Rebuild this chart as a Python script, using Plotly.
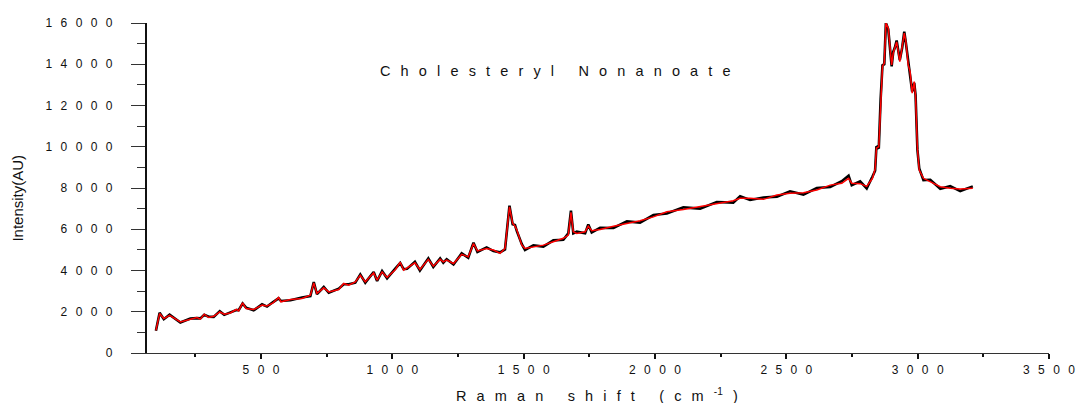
import plotly.graph_objects as go

# Raman shift (cm-1) sample positions
shift = [100, 114, 130, 152, 193, 231, 256, 269, 284, 301, 320, 343, 360, 383, 406, 415, 430, 443,
         472, 504, 523, 546, 567, 576, 612, 656, 688, 701, 713, 739, 758, 796, 815, 834, 859, 878,
         897, 929, 942, 961, 980, 1012, 1030, 1043, 1056, 1086, 1105, 1137, 1156, 1182, 1194, 1207,
         1233, 1264, 1289, 1309, 1324, 1359, 1385, 1410, 1429, 1446, 1458, 1467, 1474, 1493, 1505,
         1537, 1575, 1613, 1651, 1670, 1680, 1689, 1702, 1734, 1746, 1759, 1791, 1842, 1893, 1943,
         1994, 2045, 2108, 2172, 2235, 2298, 2324, 2362, 2413, 2464, 2514, 2565, 2616, 2667, 2711,
         2737, 2749, 2781, 2806, 2828, 2838, 2843, 2852, 2859, 2866, 2873, 2879, 2888, 2894, 2901,
         2907, 2913, 2920, 2926, 2932, 2941, 2949, 2955, 2964, 2971, 2979, 2987, 2992, 2999, 3006,
         3022, 3048, 3086, 3124, 3162, 3210]

# smoothed spectrum (red)
smoothed = [1100, 1910, 1670, 1830, 1510, 1640, 1720, 1640, 1880, 1720, 1780, 1990, 1880, 1940, 2110,
            2040, 2430, 2160, 2110, 2320, 2280, 2430, 2690, 2480, 2590, 2640, 2800, 3400, 2890, 3160,
            2960, 3080, 3370, 3290, 3450, 3770, 3450, 3890, 3530, 3930, 3660, 4050, 4400, 4020, 4120,
            4370, 4050, 4540, 4210, 4540, 4420, 4500, 4340, 4780, 4660, 5310, 4950, 5070, 4990, 4830,
            5070, 7090, 6290, 6150, 5960, 5230, 5070, 5150, 5230, 5390, 5560, 5720, 6820, 5880, 5800,
            5880, 6150, 5930, 5990, 6150, 6290, 6410, 6600, 6850, 6960, 7090, 7220, 7380, 7500, 7500,
            7450, 7660, 7740, 7770, 7900, 8140, 8230, 8470, 8230, 8210, 8080, 8470, 8920, 9930, 10000,
            12360, 13890, 14060, 15990, 15760, 14790, 13970, 14540, 14860, 15080, 14620, 14130, 14860,
            15510, 15110, 13970, 13650, 12600, 13160, 12430, 9930, 8870, 8470, 8310, 8060, 7990, 7950,
            7990]

# raw spectrum (black)
raw = [1080, 1950, 1640, 1860, 1480, 1670, 1690, 1680, 1850, 1760, 1750, 2030, 1850, 1980, 2080,
       2080, 2400, 2200, 2070, 2360, 2250, 2470, 2650, 2520, 2560, 2690, 2760, 3440, 2850, 3200,
       2920, 3120, 3330, 3330, 3410, 3810, 3410, 3930, 3490, 3970, 3620, 4100, 4360, 4070, 4080,
       4420, 4000, 4590, 4170, 4590, 4380, 4550, 4290, 4830, 4620, 5350, 4900, 5120, 4940, 4880,
       5020, 7140, 6240, 6200, 5910, 5280, 5000, 5220, 5160, 5460, 5490, 5800, 6900, 5800, 5880,
       5800, 6230, 5850, 6070, 6060, 6380, 6320, 6690, 6760, 7060, 7000, 7320, 7290, 7600, 7420,
       7540, 7580, 7840, 7680, 8000, 8050, 8330, 8600, 8140, 8320, 7980, 8560, 8840, 10020, 9920,
       12300, 13950, 14000, 16000, 15700, 14850, 13900, 14600, 14800, 15150, 14560, 14200, 14800,
       15580, 15050, 14050, 13580, 12680, 13100, 12500, 9860, 8950, 8380, 8400, 7960, 8090, 7850,
       8080]

x_ticks = [500, 1000, 1500, 2000, 2500, 3000, 3500]
x_minor = [250, 750, 1250, 1750, 2250, 2750, 3250]
y_ticks = [0, 2000, 4000, 6000, 8000, 10000, 12000, 14000, 16000]
y_minor = [1000, 3000, 5000, 7000, 9000, 11000, 13000, 15000]

title_text = "Cholesteryl Nonanoate"
x_title_main = "Raman shift (cm"
y_title = "Intensity(AU)"

FONT = "Liberation Sans, Arial, sans-serif"
DIGIT_GAP = "\u2002\u2009"
LETTER_GAP = "\u2002\u2009"
TXT = "#111"


def spaced_digits(v):
    return DIGIT_GAP.join(str(v))


def spaced_letters(s):
    return LETTER_GAP.join("\u00a0" if c == " " else c for c in s)


fig = go.Figure()
fig.add_trace(go.Scatter(x=shift, y=raw, mode="lines",
                         line=dict(color="black", width=2.6), hoverinfo="skip"))
fig.add_trace(go.Scatter(x=shift, y=smoothed, mode="lines",
                         line=dict(color="#ff0000", width=1.5)))

fig.update_layout(
    width=1078, height=403,
    margin=dict(l=147, r=29, t=23, b=50, pad=0, autoexpand=False),
    paper_bgcolor="white", plot_bgcolor="white",
    showlegend=False,
    font=dict(family=FONT, color=TXT, size=12),
    xaxis=dict(range=[66, 3500], showgrid=False, zeroline=False, automargin=False,
               showline=True, linecolor="#333", linewidth=1.3,
               tickmode="array", tickvals=x_ticks,
               ticktext=[spaced_digits(v) for v in x_ticks],
               ticks="outside", ticklen=5, tickwidth=2, tickcolor="#111",
               minor=dict(tickmode="array", tickvals=x_minor, ticks="outside",
                          ticklen=3, tickwidth=2, tickcolor="#111", showgrid=False),
               tickfont=dict(size=12, family=FONT, color=TXT)),
    yaxis=dict(range=[0, 16000], showgrid=False, zeroline=False, automargin=False,
               showline=True, linecolor="#111", linewidth=2.2,
               tickmode="array", tickvals=y_ticks,
               ticktext=[spaced_digits(v) for v in y_ticks],
               ticks="outside", ticklen=14, tickwidth=1.3, tickcolor="#333",
               ticklabelstandoff=16,
               minor=dict(tickmode="array", tickvals=y_minor, ticks="outside",
                          ticklen=8, tickwidth=1.3, tickcolor="#333", showgrid=False),
               tickfont=dict(size=12, family=FONT, color=TXT)),
    annotations=[
        dict(text=spaced_letters(title_text), xref="paper", yref="paper",
             x=0.453, y=0.854, xanchor="center", yanchor="middle", showarrow=False,
             font=dict(size=14.5, family=FONT, color=TXT)),
        dict(text=spaced_letters(x_title_main) + LETTER_GAP + "<sup>-1</sup>" + LETTER_GAP + ")",
             xref="paper", yref="paper",
             x=0.499, y=-0.128, xanchor="center", yanchor="middle", showarrow=False,
             font=dict(size=14.5, family=FONT, color=TXT)),
        dict(text=y_title, xref="paper", yref="paper", textangle=-90,
             x=-0.143, y=0.468, xanchor="center", yanchor="middle", showarrow=False,
             font=dict(size=15, family=FONT, color=TXT)),
    ],
)

fig.write_html("out.html")
